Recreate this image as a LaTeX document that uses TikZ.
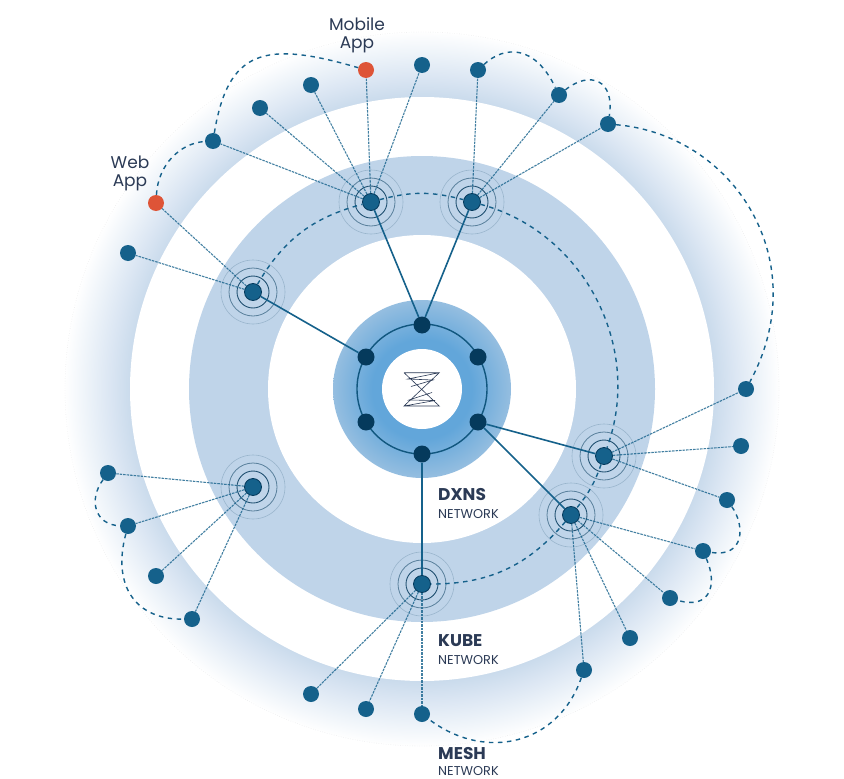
\documentclass[tikz,border=0pt]{standalone}
\usepackage{fontspec}
\setmainfont{Poppins}
\usepackage{tikz}
\usetikzlibrary{arrows}

\definecolor{bandblue}{HTML}{BFD4E9}
\definecolor{bandtop}{HTML}{CADBEC}
\definecolor{bandmid}{HTML}{DBE6F3}
\definecolor{bandlow}{HTML}{EDF3F9}
\definecolor{diskin}{HTML}{62A6DA}
\definecolor{diskout}{HTML}{95BEE0}
\definecolor{nodeblue}{HTML}{15618B}
\definecolor{coreblue}{HTML}{053A5C}
\definecolor{appred}{HTML}{DE5437}
\definecolor{inktext}{HTML}{2B3A55}

\pgfdeclareradialshading{meshfade}{\pgfpoint{0bp}{0bp}}{color(0bp)=(bandtop); color(20.4bp)=(bandtop); color(21.8bp)=(bandmid); color(23.4bp)=(bandlow); color(25bp)=(white); color(50bp)=(white)}
\pgfdeclareradialshading{diskfade}{\pgfpoint{0bp}{0bp}}{color(0bp)=(diskin); color(14bp)=(diskin); color(25bp)=(diskout); color(50bp)=(diskout)}

\tikzset{
	band/.style={circle,inner sep=0pt,minimum size=#1},
	leaf/.style={circle,inner sep=0pt,minimum size=16pt,fill=nodeblue},
	app/.style={leaf,fill=appred},
	hub/.style={circle,inner sep=0pt,minimum size=17pt,fill=nodeblue,draw=coreblue,line width=.8pt},
	core/.style={circle,inner sep=0pt,minimum size=17pt,fill=coreblue},
	trunk/.style={draw=nodeblue,line width=1.6pt},
	spoke/.style={draw=nodeblue,line width=1.1pt,dash pattern=on 2.5pt off 1pt,opacity=.8},
	mesh/.style={draw=nodeblue,line width=1.4pt,dash pattern=on 4.5pt off 4.5pt},
	title/.style={font=\fontsize{17}{20}\selectfont,text=inktext,align=center},
	head/.style={anchor=west,inner sep=0pt,font=\fontsize{17}{20}\selectfont\bfseries,text=inktext},
	sub/.style={anchor=west,inner sep=0pt,font=\fontsize{12.8}{14}\selectfont,text=inktext}
}

\begin{document}
\begin{tikzpicture}[x=1pt,y=-1pt]
\useasboundingbox (0,0) rectangle (844,779);

% rings
\node[band=716pt,shading=meshfade]	(mesh)	at (422,389) {};
\draw[black!12,line width=.4pt,dotted] (mesh) circle (357pt);
\node[band=584pt,fill=white]		(gapA)	at (422,389) {};
\node[band=466pt,fill=bandblue]		(kube)	at (422,389) {};
\node[band=308pt,fill=white]		(gapB)	at (422,389) {};
\node[band=178pt,shading=diskfade]	(dxns)	at (422,389) {};
\node[band=80pt,fill=white]		(eye)	at (422,389) {};
\draw[nodeblue!75!coreblue,line width=1.4pt] (eye) circle (65pt);

% logo
\draw[inktext,line width=.6pt] (404,372.7) -- (439.3,372.7) -- (404,406) -- (439.3,406) -- (404,372.7)
	(439.3,372.7) -- (408,379) -- (433,380) -- (411,386.5)
	(404,406) -- (435,400.5) -- (409,400) -- (432,392.5);

% dxns nodes
\node[core]	(C1)	at (422,325) {};
\node[core]	(C2)	at (366,357) {};
\node[core]	(C3)	at (478,357) {};
\node[core]	(C4)	at (366,422) {};
\node[core]	(C5)	at (478,422) {};
\node[core]	(C6)	at (422,454) {};

% kube nodes
\node[hub]	(H1)	at (253,292) {};
\node[hub]	(H2)	at (371,202) {};
\node[hub]	(H3)	at (472,202) {};
\node[hub]	(H4)	at (604,456) {};
\node[hub]	(H5)	at (571,515) {};
\node[hub]	(H6)	at (422,584) {};
\node[hub]	(H7)	at (253,487) {};

\foreach \h in {H1,H2,H3,H4,H5,H6,H7}
{
	\draw[coreblue,line width=.9pt,opacity=.85] (\h) circle (16pt);
	\draw[coreblue,line width=.8pt,opacity=.55] (\h) circle (24pt);
	\draw[coreblue,line width=.6pt,opacity=.2] (\h) circle (32pt);
}

% mesh nodes
\node[app]	(web)	at (156,203) {};
\node[app]	(mobile) at (366,70) {};
\node[leaf]	(L1)	at (128,253) {};
\node[leaf]	(L2)	at (213,141) {};
\node[leaf]	(L3)	at (260,108) {};
\node[leaf]	(L4)	at (311,85) {};
\node[leaf]	(L5)	at (422,65) {};
\node[leaf]	(L6)	at (478,70) {};
\node[leaf]	(L7)	at (559,95) {};
\node[leaf]	(L8)	at (608,124) {};
\node[leaf]	(L9)	at (746,389) {};
\node[leaf]	(L10)	at (741,446) {};
\node[leaf]	(L11)	at (727,500) {};
\node[leaf]	(L12)	at (703,551) {};
\node[leaf]	(L13)	at (670,598) {};
\node[leaf]	(L14)	at (630,638) {};
\node[leaf]	(L15)	at (584,670) {};
\node[leaf]	(L16)	at (422,714) {};
\node[leaf]	(L17)	at (366,709) {};
\node[leaf]	(L18)	at (311,694) {};
\node[leaf]	(L19)	at (192,619) {};
\node[leaf]	(L20)	at (156,576) {};
\node[leaf]	(L21)	at (128,526) {};
\node[leaf]	(L22)	at (108,473) {};

\path[trunk]
	(H1)	edge (C2)
	(H2)	edge (C1)
	(H3)	edge (C1)
	(H4)	edge (C5)
	(H5)	edge (C5)
	(H6)	edge (C6);

\path[spoke]
	(H1)	edge (L1)
		edge (web)
	(H2)	edge (L2)
		edge (L3)
		edge (L4)
		edge (mobile)
		edge (L5)
	(H3)	edge (L6)
		edge (L7)
		edge (L8)
	(H4)	edge (L9)
		edge (L10)
		edge (L11)
	(H5)	edge (L12)
		edge (L13)
		edge (L14)
		edge (L15)
	(H6)	edge (L16)
		edge (L17)
		edge (L18)
	(H7)	edge (L19)
		edge (L20)
		edge (L21)
		edge (L22);

% kube ring links
\path[mesh]
	(H1)	edge [bend left=22.5]	(H2)
	(H2)	edge [bend left=15]	(H3)
	(H3)	edge [bend left=47.5]	(H4)
	(H4)	edge [bend left=10]	(H5)
	(H5)	edge [bend left=25]	(H6);

% mesh links
\draw[mesh] (web) .. controls (158,165) and (180,143) .. (L2);
\draw[mesh] (L2) .. controls (228,50) and (264,40) .. (mobile);
\draw[mesh] (L6) .. controls (505,45) and (535,45) .. (L7);
\draw[mesh] (L7) .. controls (590,70) and (615,80) .. (L8);
\draw[mesh] (L8) .. controls (735,135) and (815,262) .. (L9);
\draw[mesh] (L11) .. controls (745,525) and (745,558) .. (L12);
\draw[mesh] (L12) .. controls (718,585) and (710,610) .. (L13);
\draw[mesh] (L15) .. controls (558,745) and (485,762) .. (L16);
\draw[mesh] (L22) .. controls (88,500) and (95,525) .. (L21);
\draw[mesh] (L21) .. controls (112,585) and (135,620) .. (L19);

% labels
\node[title]	(mobiletext)	at (357,35) {Mobile\\[-2pt]App};
\node[title]	(webtext)	at (130,173) {Web\\[-2pt]App};
\node[head]	(dxnstext)	at (438,495) {DXNS};
\node[sub]	(dxnssub)	at (438,514) {NETWORK};
\node[head]	(kubetext)	at (438,641) {KUBE};
\node[sub]	(kubesub)	at (438,660) {NETWORK};
\node[head]	(meshtext)	at (438,754) {MESH};
\node[sub]	(meshsub)	at (438,771) {NETWORK};
\end{tikzpicture}
\end{document}
